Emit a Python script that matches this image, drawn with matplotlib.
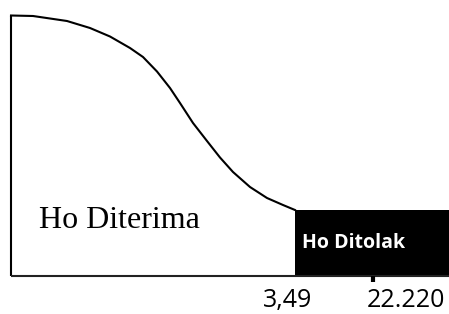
import matplotlib.pyplot as plt
from matplotlib.patches import Rectangle

# skema kurva distribusi F (satuan bebas)
curve_x = [0, 22, 56, 79, 99, 119, 132, 146, 159, 169, 182, 196, 209,
           222, 239, 256, 272, 284]
curve_y = [260, 259.5, 254.5, 247.5, 239, 227.5, 218.5, 204, 187.5, 172.5,
           152.5, 134.5, 118, 103.5, 88.5, 77.5, 70.5, 65.5]

f_tabel_label = "3,49"
f_hitung_label = "22.220"
f_hitung_pos = 362
x_max = 438

label_terima = "Ho Diterima"
label_tolak = "Ho Ditolak"

fig = plt.figure(figsize=(4.49, 3.14), dpi=100)
ax = fig.add_axes([0, 0, 1, 1])
ax.set_xlim(-11, x_max)
ax.set_ylim(-38.5, 275.5)
ax.axis('off')

# sumbu
ax.plot([0, 0], [0, curve_y[0]], color='black', lw=1.5, solid_capstyle='butt')
ax.plot([0, x_max], [0, 0], color='#222222', lw=1.5, solid_capstyle='butt')

# kurva
ax.plot(curve_x, curve_y, color='black', lw=1.5, solid_joinstyle='round')

# daerah penolakan
crit = curve_x[-1]
ax.add_patch(Rectangle((crit, -0.5), x_max - crit, curve_y[-1] + 0.5,
                       facecolor='black', edgecolor='none'))
ax.plot([f_hitung_pos, f_hitung_pos], [0, -6.5], color='black', lw=3,
        solid_capstyle='butt')

ax.text(28, 47.5, label_terima, family='Liberation Serif', fontsize=23,
        ha='left', va='baseline', color='black')
ax.text(crit + 7, 27.5, label_tolak, family='Open Sans', fontweight='bold',
        fontsize=14, ha='left', va='baseline', color='white')

ax.text(277, -37.5, f_tabel_label, family='Open Sans', fontsize=18,
        ha='center', va='bottom')
ax.text(395, -37.5, f_hitung_label, family='Open Sans', fontsize=18,
        ha='center', va='bottom')

fig.savefig("out.png", dpi=100)
